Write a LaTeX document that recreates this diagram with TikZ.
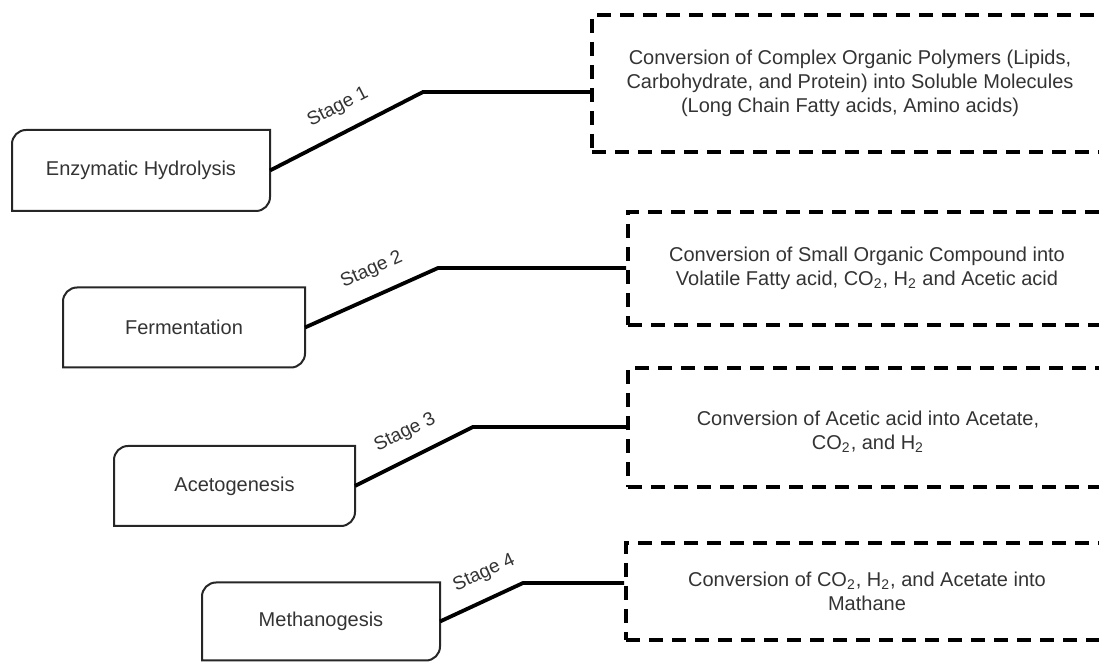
\documentclass[tikz,border=0pt]{standalone}
\usepackage{fontspec}
\setmainfont{Liberation Sans}
\definecolor{txtgray}{HTML}{333333}
\tikzstyle{stagebox} = [rectangle, minimum width=120pt, minimum height=40pt, outer sep=0pt, text centered, text=txtgray, font=\fontsize{10}{12}\selectfont]
\tikzstyle{desc} = [rectangle, draw=black, line width=2pt, dash pattern=on 7pt off 4.5pt, align=center, text=txtgray, font=\fontsize{10}{12}\selectfont]
\tikzstyle{link} = [line width=1.9pt, draw=black]
\tikzstyle{stagelbl} = [sloped, above=4pt, text=txtgray, font=\fontsize{9.5}{10}\selectfont]
\tikzstyle{leafline} = [line width=1pt, draw=black!85]

% box with round top-left and bottom-right corners
\newcommand{\leaf}[1]{%
  \draw[leafline] ([yshift=-7pt]#1.north west) arc[start angle=180, end angle=90, radius=7pt]
    -- (#1.north east) -- ([yshift=7pt]#1.south east) arc[start angle=0, end angle=-90, radius=7pt]
    -- (#1.south west) -- cycle;}

\begin{document}
\begin{tikzpicture}[x=0.5pt, y=-0.5pt]
\useasboundingbox (0,0) rectangle (1099,662);
\clip (0,0) rectangle (1099,662);

% stages
\node (enz)[stagebox, minimum width=129pt, minimum height=40.5pt] at (141,170.5) {Enzymatic Hydrolysis};
\node (ferm)[stagebox, minimum width=121pt] at (184,327.5) {Fermentation};
\node (aceto)[stagebox, minimum width=120.5pt] at (234.5,486) {Acetogenesis};
\node (metha)[stagebox, minimum width=119pt, minimum height=39pt] at (321,621.5) {Methanogesis};
\leaf{enz}
\leaf{ferm}
\leaf{aceto}
\leaf{metha}

% what happens in each stage
\node (desc1)[desc, minimum width=258pt, minimum height=68.5pt] at (850,83.5) {Conversion of Complex Organic Polymers (Lipids,\\Carbohydrate, and Protein) into Soluble Molecules\\(Long Chain Fatty acids, Amino acids)};
\node (desc2)[desc, minimum width=239pt, minimum height=56.5pt] at (867,268.5) {Conversion of Small Organic Compound into\\Volatile Fatty acid, CO\textsubscript{2}, H\textsubscript{2} and Acetic acid};
\node (desc3)[desc, minimum width=240pt, minimum height=59.5pt] at (868,427.5) {\rule{0pt}{12pt}Conversion of Acetic acid into Acetate,\\CO\textsubscript{2}, and H\textsubscript{2}};
\node (desc4)[desc, minimum width=241pt, minimum height=48.5pt] at (867,591.5) {Conversion of CO\textsubscript{2}, H\textsubscript{2}, and Acetate into\\Mathane};

% links
\coordinate (k1) at (423,92);
\coordinate (k2) at (438,268);
\coordinate (k3) at (473,427);
\coordinate (k4) at (523,583);
\draw [link](enz.east) -- node[stagelbl, pos=.52]{Stage 1} (k1) -- (k1 -| desc1.west);
\draw [link](ferm.east) -- node[stagelbl, pos=.58]{Stage 2} (k2) -- (k2 -| desc2.west);
\draw [link](aceto.east) -- node[stagelbl, pos=.52]{Stage 3} (k3) -- (k3 -| desc3.west);
\draw [link](metha.east) -- node[stagelbl, pos=.66]{Stage 4} (k4) -- (k4 -| desc4.west);
\end{tikzpicture}
\end{document}
